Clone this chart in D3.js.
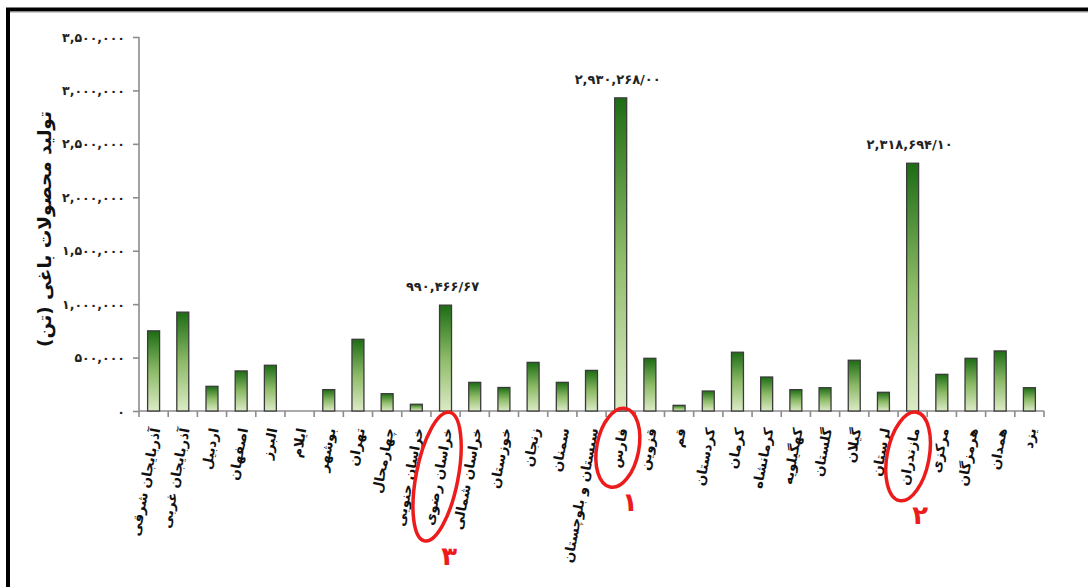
<!DOCTYPE html>
<html><head><meta charset="utf-8">
<script src="https://cdn.jsdelivr.net/npm/d3@7"></script>
<style>html,body{margin:0;padding:0;background:#fff;}svg{display:block;}</style>
</head><body>
<svg id="c" width="1088" height="587"></svg>
<script>
const categories = ["آذربایجان شرقی","آذربایجان غربی","اردبیل","اصفهان","البرز","ایلام","بوشهر","تهران","چهارمحال","خراسان جنوبی","خراسان رضوی","خراسان شمالی","خوزستان","زنجان","سمنان","سیستان و بلوچستان","فارس","قزوین","قم","کردستان","کرمان","کرمانشاه","کهگیلویه","گلستان","گیلان","لرستان","مازندران","مرکزی","هرمزگان","همدان","یزد"];
const values = [750000,925000,231000,375000,428000,0,200000,671000,162000,63000,990466.67,268000,220000,455000,268000,380000,2930268.00,493000,53000,187000,550000,318000,200000,218000,475000,175000,2318694.10,343000,493000,562000,218000];
const yTicks = [0,500000,1000000,1500000,2000000,2500000,3000000,3500000];
const annotatedCategories = ["خراسان رضوی","فارس","مازندران"];
const highlightedCategories = ["فارس","مازندران","خراسان رضوی"];
const rankLabels = ["۱","۲","۳"];
const yTitle = "تولید محصولات باغی (تن)";

const fa = s => String(s).replace(/\d/g, d => "۰۱۲۳۴۵۶۷۸۹"[d]);
const svg = d3.select("#c");
const FONT = "DejaVu Sans";

const x = d3.scaleBand().domain(categories).range([139,1044]).paddingInner(0.59).paddingOuter(0.295);
const y = d3.scaleLinear().domain([0,3500000]).range([411,37]);

// frame
svg.append("rect").attr("x",8).attr("y",9.5).attr("width",1200).attr("height",800)
  .attr("fill","none").attr("stroke","#000").attr("stroke-width",4);
svg.append("line").attr("x1",10).attr("x2",1088).attr("y1",12).attr("y2",12).attr("stroke","#999").attr("stroke-width",1);

// gradient
const defs = svg.append("defs");
const g = defs.append("linearGradient").attr("id","gr").attr("x1",0).attr("y1",0).attr("x2",0).attr("y2",1);
g.append("stop").attr("offset","0%").attr("stop-color","#1d6c14");
g.append("stop").attr("offset","50%").attr("stop-color","#8cba66");
g.append("stop").attr("offset","100%").attr("stop-color","#dcebc6");

// y axis
const yAxis = svg.append("g").attr("transform","translate(139,0)")
  .call(d3.axisLeft(y).tickValues(yTicks).tickSize(6).tickPadding(8).tickFormat(d => fa(d3.format(",")(d))));
yAxis.select(".domain").attr("stroke","#8c8c8c").attr("stroke-width",1.6).attr("d","M0,37V411");
yAxis.selectAll(".tick line").attr("stroke","#8c8c8c").attr("stroke-width",1.6);
yAxis.selectAll(".tick text").attr("font-family",FONT).attr("font-size",12.5).attr("font-weight","bold").attr("fill","#222").attr("direction","ltr");

// x axis line + ticks at category boundaries
const step = x.step();
const bounds = d3.range(categories.length+1).map(i => x.range()[0] + i*step);
svg.append("line").attr("x1",139).attr("x2",1044).attr("y1",411).attr("y2",411).attr("stroke","#8c8c8c").attr("stroke-width",1.6);
svg.selectAll(".xt").data(bounds).join("line").attr("class","xt")
  .attr("x1",d=>d).attr("x2",d=>d).attr("y1",411).attr("y2",417).attr("stroke","#8c8c8c").attr("stroke-width",1.6);

// bars
const data = categories.map((c,i) => ({c, v: values[i]}));
svg.selectAll(".bar").data(data.filter(d => d.v > 0)).join("rect").attr("class","bar")
  .attr("x", d => x(d.c)).attr("width", x.bandwidth())
  .attr("y", d => y(d.v)).attr("height", d => y(0) - y(d.v))
  .attr("fill","url(#gr)").attr("stroke","#3b3b3b").attr("stroke-width",1.3);

// annotations
svg.selectAll(".ann").data(data.filter(d => annotatedCategories.includes(d.c))).join("text").attr("class","ann")
  .attr("x", d => x(d.c) + x.bandwidth()/2 - 3).attr("y", d => y(d.v) - 14)
  .attr("text-anchor","middle").attr("direction","ltr")
  .attr("font-family",FONT).attr("font-size",13).attr("font-weight","bold").attr("fill","#222")
  .text(d => fa(d3.format(",.2f")(d.v)).replace(".", "/"));

// x labels
const ANG = -79;
const rad = ANG*Math.PI/180;
const dir = [-Math.cos(rad), -Math.sin(rad)];
const labelAnchor = c => [x(c) + x.bandwidth()/2 + 2, 428];
const labels = svg.selectAll(".xl").data(categories).join("text").attr("class","xl")
  .attr("transform", c => { const a = labelAnchor(c); return `translate(${a[0]},${a[1]}) rotate(${ANG})`; })
  .attr("text-anchor","end").attr("dominant-baseline","central")
  .attr("font-family",FONT).attr("font-size",13.5).attr("font-weight","bold").attr("fill","#111")
  .text(c => c);

// y title
svg.append("text").attr("transform","translate(44,229) rotate(-90)")
  .attr("text-anchor","middle").attr("dominant-baseline","central")
  .attr("font-family",FONT).attr("font-size",18.5).attr("font-weight","bold").attr("fill","#111")
  .text(yTitle);

// highlight ellipses
labels.filter(c => highlightedCategories.includes(c)).each(function(c){
  const L = this.getComputedTextLength();
  const a = labelAnchor(c);
  const cx = a[0] + dir[0]*L/2 - 1, cy = a[1] + dir[1]*L/2;
  const ry = Math.max(40, L/2 + 16), rx = 21;
  const phi = Math.atan2(-dir[0], dir[1]) * 180/Math.PI;
  svg.append("ellipse").attr("cx",cx).attr("cy",cy).attr("rx",rx).attr("ry",ry)
    .attr("transform",`rotate(${phi},${cx},${cy})`)
    .attr("fill","none").attr("stroke","#ec1c1c").attr("stroke-width",3.5);
  svg.append("text").attr("x", cx + 12).attr("y", cy + ry + 14)
    .attr("text-anchor","middle").attr("dominant-baseline","central")
    .attr("font-family",FONT).attr("font-size",26).attr("font-weight","bold").attr("fill","#ec1c1c")
    .text(rankLabels[highlightedCategories.indexOf(c)]);
});
</script>
</body></html>
